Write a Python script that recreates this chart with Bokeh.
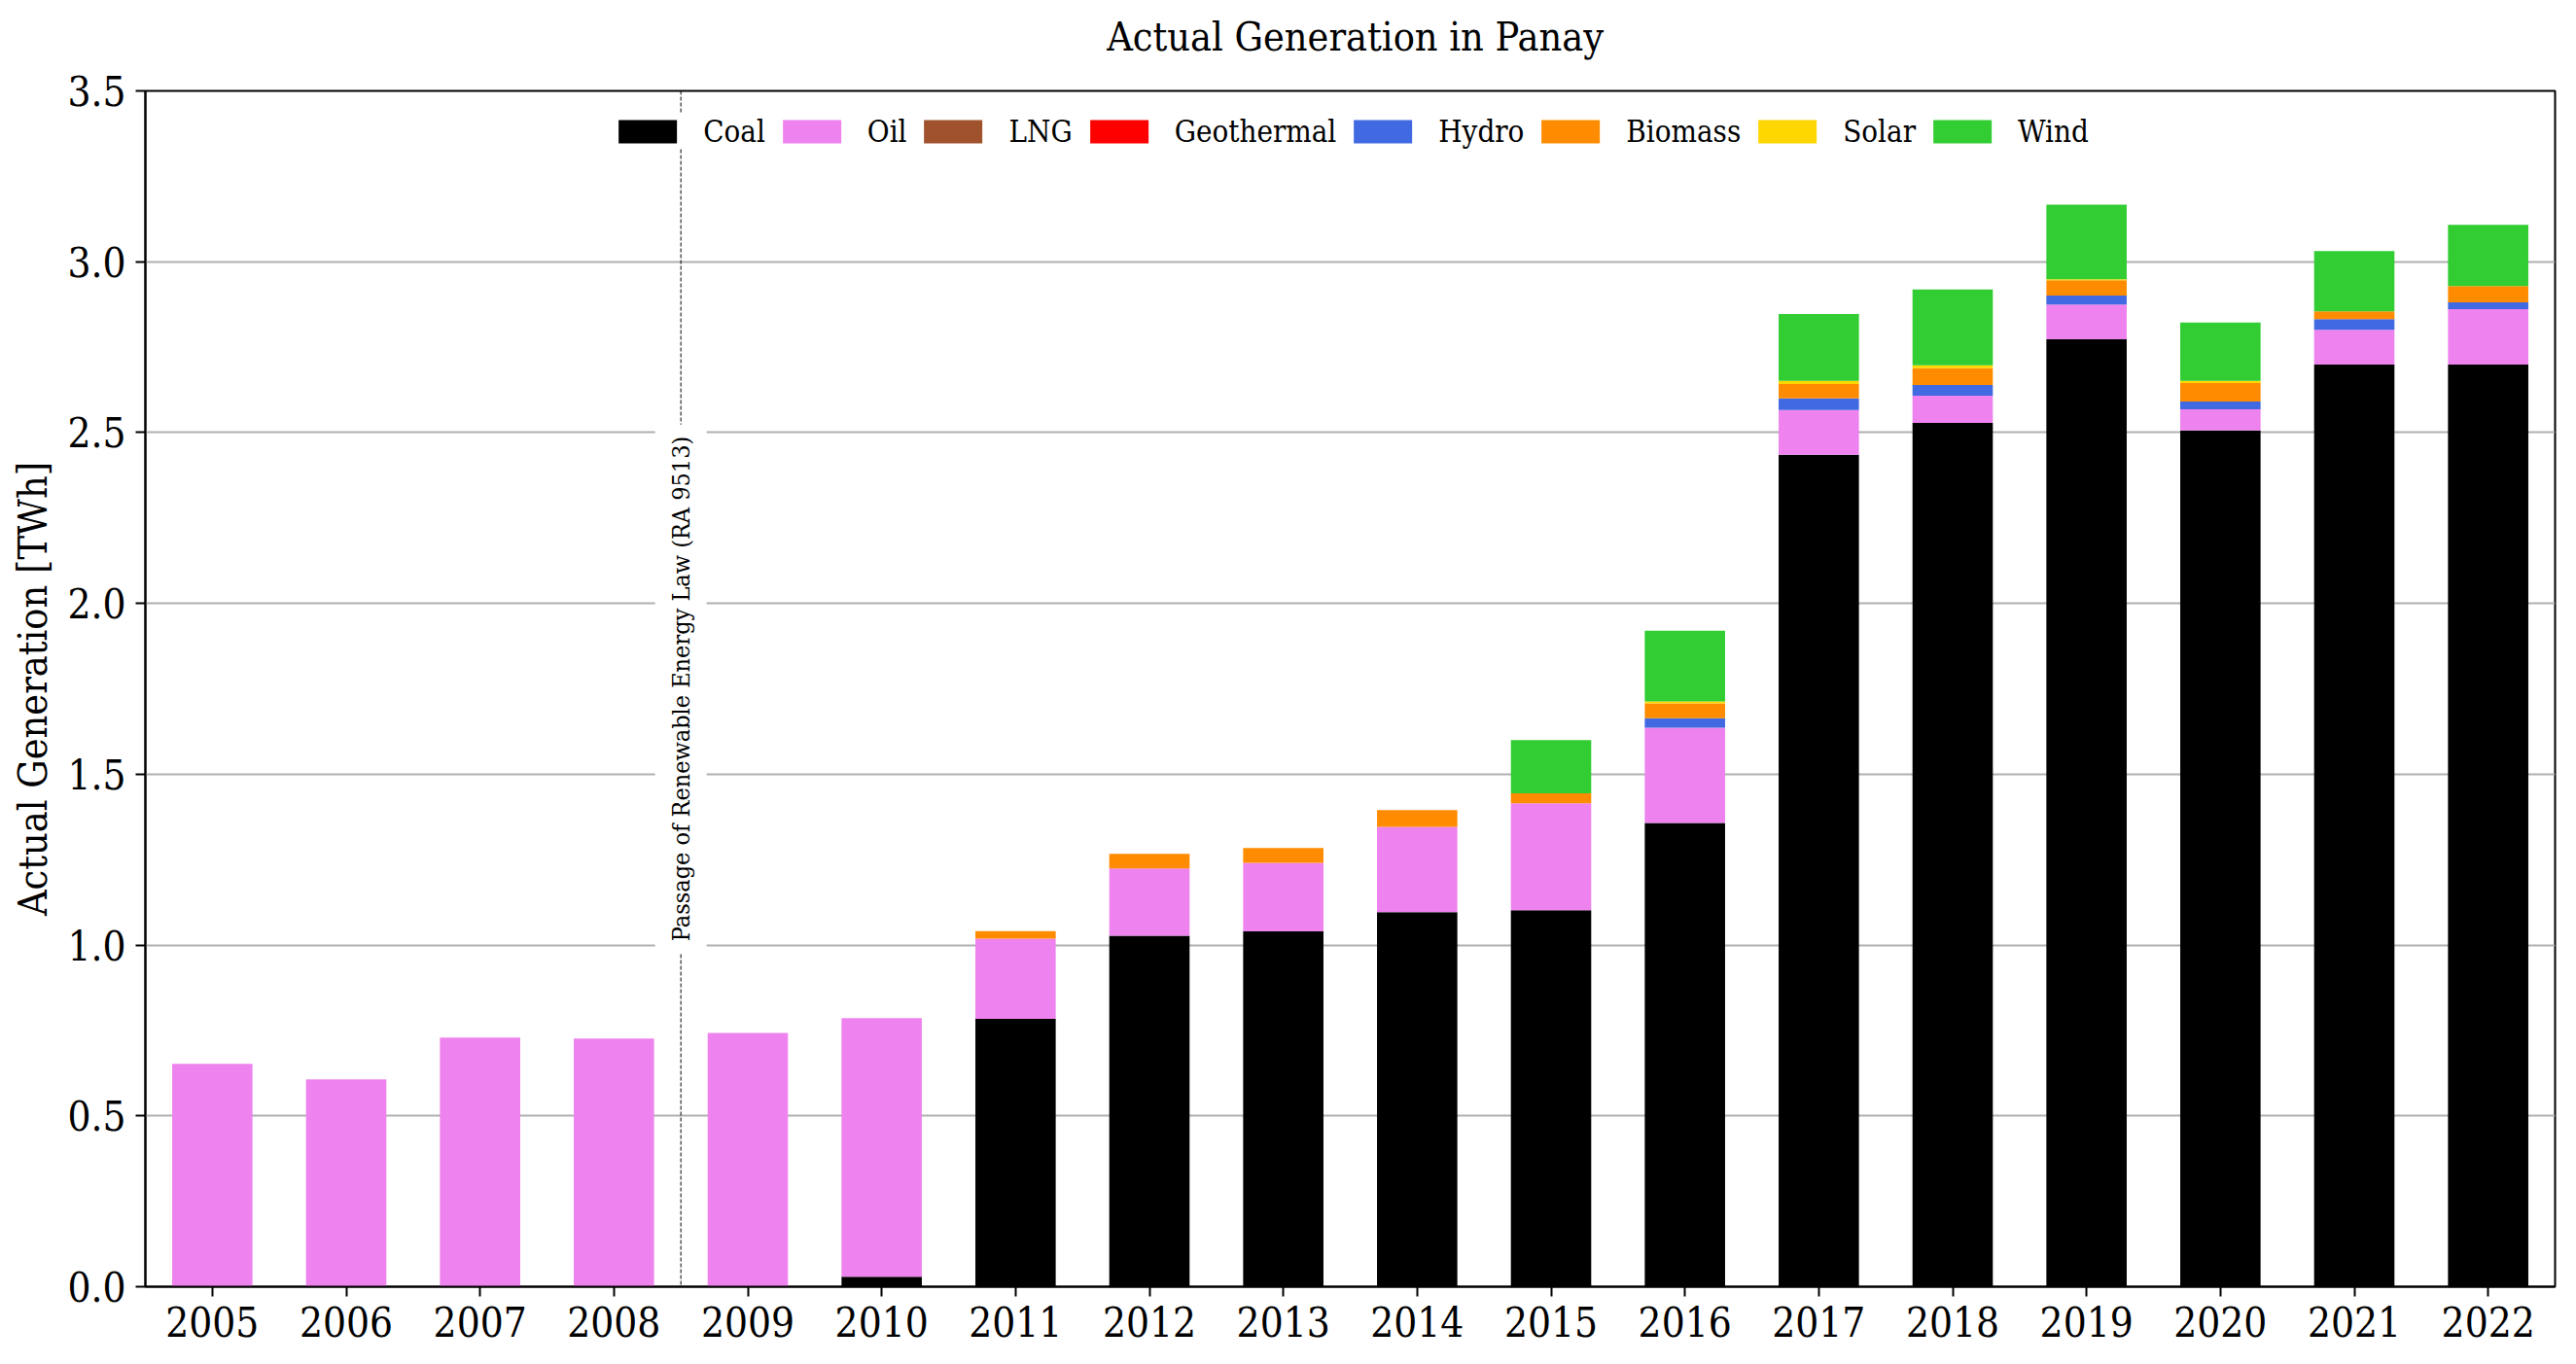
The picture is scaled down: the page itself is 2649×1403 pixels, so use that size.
import math
from bokeh.plotting import figure
from bokeh.layouts import column
from bokeh.models import ColumnDataSource, Span, Label, FixedTicker, PrintfTickFormatter
from bokeh.embed import file_html
from bokeh.resources import INLINE

FONT = "DejaVu Serif Condensed"

years = [str(y) for y in range(2005, 2023)]
fuels = ["Coal", "Oil", "LNG", "Geothermal", "Hydro", "Biomass", "Solar", "Wind"]
colors = ["#000000", "#EE82EE", "#A0522D", "#FF0000", "#4169E1", "#FF8C00", "#FFD700", "#32CD32"]

coal = [0, 0, 0, 0, 0, 0.029, 0.784, 1.027, 1.040, 1.096, 1.102, 1.357, 2.435, 2.528, 2.773, 2.506, 2.699, 2.699]
oil = [0.652, 0.607, 0.729, 0.726, 0.743, 0.757, 0.235, 0.197, 0.201, 0.250, 0.313, 0.279, 0.131, 0.080, 0.102, 0.062, 0.102, 0.162]
lng = [0] * 18
geothermal = [0] * 18
hydro = [0, 0, 0, 0, 0, 0, 0, 0, 0, 0, 0, 0.028, 0.034, 0.031, 0.026, 0.023, 0.031, 0.020]
biomass = [0, 0, 0, 0, 0, 0, 0.022, 0.043, 0.043, 0.049, 0.029, 0.043, 0.042, 0.049, 0.045, 0.054, 0.023, 0.048]
solar = [0, 0, 0, 0, 0, 0, 0, 0, 0, 0, 0, 0.006, 0.009, 0.009, 0.003, 0.006, 0.0, 0.0]
wind = [0, 0, 0, 0, 0, 0, 0, 0, 0, 0, 0.156, 0.207, 0.196, 0.222, 0.218, 0.171, 0.176, 0.179]

y_ticks = [0.0, 0.5, 1.0, 1.5, 2.0, 2.5, 3.0, 3.5]
law_position = 4.0  # boundary between 2008 and 2009 in categorical coordinates
law_text = "Passage of Renewable Energy Law (RA 9513)"
title_text = "Actual Generation in Panay"

source = ColumnDataSource(dict(year=years, Coal=coal, Oil=oil, LNG=lng, Geothermal=geothermal,
                               Hydro=hydro, Biomass=biomass, Solar=solar, Wind=wind))

# --- title strip (small figure above the chart)
TW, TH = 2649, 68
tf = figure(width=TW, height=TH, x_range=(0, TW), y_range=(0, TH), output_backend="svg",
            toolbar_location=None, x_axis_type=None, y_axis_type=None,
            min_border=0, min_border_left=0, min_border_right=0, min_border_top=0,
            min_border_bottom=0, outline_line_color=None,
            background_fill_color="white", border_fill_color="white")
tf.xgrid.visible = False
tf.ygrid.visible = False
tf.add_layout(Label(x=1330, y=TH - 37, text=title_text, text_align="center",
                    text_baseline="middle", text_font=FONT, text_font_size="41px",
                    text_color="black"))

# --- main chart
p = figure(x_range=years, y_range=(0, 3.5), frame_width=2478, frame_height=1230,
           output_backend="svg", toolbar_location=None,
           min_border_left=149, min_border_right=22, min_border_top=25, min_border_bottom=80,
           background_fill_color="white", border_fill_color="white")

span = Span(location=law_position, dimension="height", line_color="black",
            line_dash="4 2", line_width=1)
p.add_layout(span)
lab = Label(x=law_position, y=1.75, text=law_text, angle=math.pi / 2,
            text_align="center", text_baseline="middle", text_font=FONT,
            text_font_size="25px", text_color="black",
            background_fill_color="white", padding=12)
p.add_layout(lab)

p.vbar_stack(fuels, x="year", width=0.6, source=source, fill_color=colors,
             line_color=None, legend_label=fuels)

p.xgrid.visible = False
p.ygrid.grid_line_color = "#b0b0b0"
p.ygrid.grid_line_width = 2
p.yaxis.ticker = FixedTicker(ticks=y_ticks)
p.yaxis.formatter = PrintfTickFormatter(format="%.1f")
p.yaxis.axis_label = "Actual Generation [TWh]"

for ax in (p.xaxis[0], p.yaxis[0]):
    ax.major_label_text_font = FONT
    ax.major_label_text_font_size = "42px"
    ax.major_label_text_color = "black"
    ax.axis_label_text_font = FONT
    ax.axis_label_text_font_size = "41px"
    ax.axis_label_text_font_style = "normal"
    ax.axis_label_text_color = "black"
    ax.axis_line_width = 2
    ax.axis_line_color = "black"
    ax.major_tick_line_width = 2
    ax.major_tick_line_color = "black"
    ax.major_tick_out = 10
    ax.major_tick_in = 0
    ax.minor_tick_line_color = None
    ax.major_label_standoff = 10
p.yaxis.axis_label_standoff = 8
p.xaxis.major_label_orientation = "horizontal"

p.outline_line_color = "black"
p.outline_line_width = 2
p.outline_line_alpha = 1

leg = p.legend[0]
leg.orientation = "horizontal"
leg.location = "top_center"
leg.glyph_width = 75
leg.glyph_height = 30
leg.label_height = 30
leg.label_standoff = 20
leg.spacing = 10
leg.label_text_font = FONT
leg.label_text_font_size = "31px"
leg.label_text_color = "black"
leg.border_line_color = None
leg.background_fill_color = "white"
leg.background_fill_alpha = 1
leg.padding = 10
leg.margin = 24

layout = column(tf, p, spacing=0)
open("out.html", "w").write(file_html(layout, INLINE))
